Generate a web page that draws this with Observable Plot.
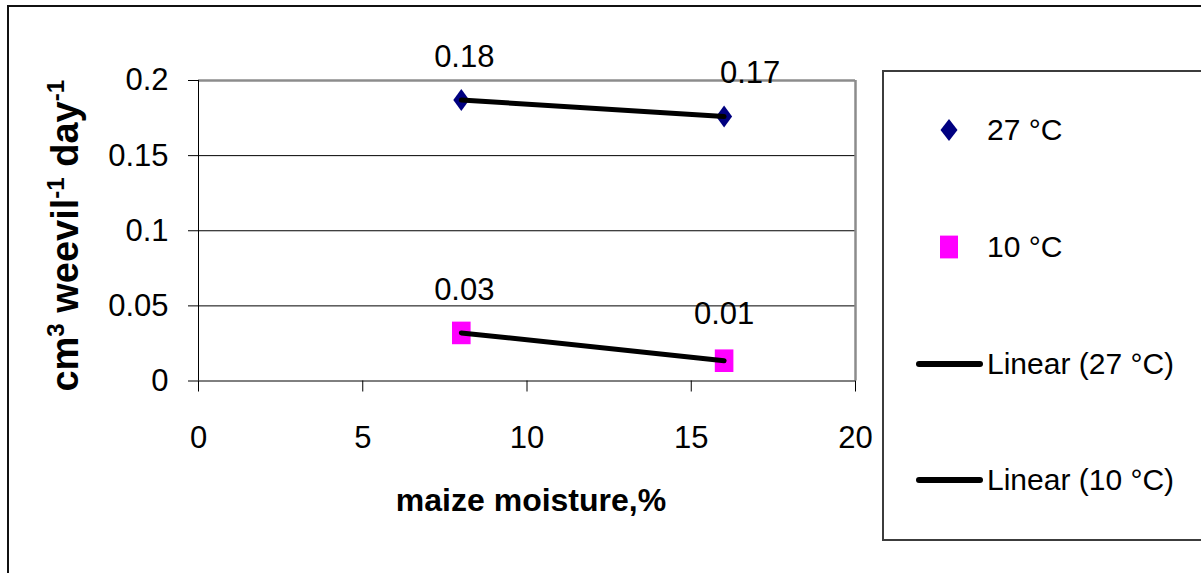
<!DOCTYPE html>
<html>
<head>
<meta charset="utf-8">
<script src="https://cdn.jsdelivr.net/npm/d3@7"></script>
<script src="https://cdn.jsdelivr.net/npm/@observablehq/plot@0.6"></script>
<style>
  html, body { margin: 0; padding: 0; background: #fff; }
  body { width: 1201px; height: 573px; overflow: hidden; position: relative; font-family: "Liberation Sans", Arial, sans-serif; }
  #outer { position: absolute; left: 7px; top: 5px; width: 2000px; height: 2000px; border-left: 2px solid #111; border-top: 2px solid #111; box-sizing: border-box; }
  #chart { position: absolute; left: 0; top: 0; }
  #legend { position: absolute; left: 882px; top: 70px; width: 400px; height: 471px; border: 2px solid #3c3c3c; box-sizing: border-box; background: #fff; }
  .row { height: 116.7px; display: flex; align-items: center; }
  .row svg { flex: none; }
  .row span { font-size: 30px; color: #000; white-space: pre; }
</style>
</head>
<body>
<div id="outer"></div>
<div id="chart"></div>
<div id="legend"></div>
<script>
// ---- data ----
const moisture = [8, 16];
const rate27 = [0.187, 0.176];
const rate10 = [0.032, 0.0135];
const labels27 = ["0.18", "0.17"];
const labels10 = ["0.03", "0.01"];
const series = ["27 °C", "10 °C"];
const seriesColors = ["#000080", "#ff00ff"];
const xTicks = [0, 5, 10, 15, 20];
const yTicks = [0, 0.05, 0.1, 0.15, 0.2];
const yTickLabels = ["0", "0.05", "0.1", "0.15", "0.2"];
const legendLabels = ["27 °C", "10 °C", "Linear (27 °C)", "Linear (10 °C)"];
const legendKinds = ["diamond", "square", "line", "line"];
const xTitle = "maize moisture,%";
const yTitle = "cm3 weevil-1 day-1";

const rows = [];
moisture.forEach((m, i) => rows.push({series: series[0], x: m, y: rate27[i], label: labels27[i], i}));
moisture.forEach((m, i) => rows.push({series: series[1], x: m, y: rate10[i], label: labels10[i], i}));

const tallDiamond = {draw(ctx) { const w = 8, h = 11; ctx.moveTo(0, -h); ctx.lineTo(w, 0); ctx.lineTo(0, h); ctx.lineTo(-w, 0); ctx.closePath(); }};
const tallSquare = {draw(ctx) { const w = 9.3, h = 11.3; ctx.rect(-w, -h, 2 * w, 2 * h); }};

const font = "Liberation Sans, Arial, sans-serif";
const s27 = rows.filter(d => d.series === series[0]);
const s10 = rows.filter(d => d.series === series[1]);

const chart = Plot.plot({
  width: 880,
  height: 560,
  marginLeft: 198,
  marginRight: 25,
  marginTop: 80,
  marginBottom: 179.5,
  x: {domain: [0, 20]},
  y: {domain: [0, 0.2]},
  style: {background: "none", fontFamily: font, color: "#000", overflow: "visible"},
  marks: [
    Plot.ruleY(yTicks.filter(t => t > 0 && t < 0.2), {stroke: "#000", strokeWidth: 1}),
    Plot.ruleY([0.2], {stroke: "#8c8c8c", strokeWidth: 2.5}),
    Plot.ruleX([20], {stroke: "#8c8c8c", strokeWidth: 2.5}),
    Plot.ruleX([0], {stroke: "#000", strokeWidth: 1}),
    Plot.ruleY([0], {stroke: "#000", strokeWidth: 1}),
    Plot.axisY({ticks: yTicks, tickFormat: d => yTickLabels[yTicks.indexOf(d)], tickSize: 10, tickPadding: 20, fontSize: 31, label: null, stroke: "#000"}),
    Plot.axisX({ticks: xTicks, tickFormat: d => String(d), tickSize: 11, tickPadding: 34, fontSize: 31, label: null, stroke: "#000"}),
    Plot.dot(s27, {x: "x", y: "y", symbol: tallDiamond, fill: seriesColors[0], stroke: "none"}),
    Plot.dot(s10, {x: "x", y: "y", symbol: tallSquare, fill: seriesColors[1], stroke: "none"}),
    Plot.linearRegressionY(rows, {x: "x", y: "y", z: "series", stroke: "#000", strokeWidth: 5, ci: 0}),
    Plot.text(rows.filter(d => d.i === 0), {x: "x", y: "y", text: "label", fontSize: 31, lineAnchor: "middle", dx: 3, dy: -43, fill: "#000"}),
    Plot.text(s27.filter(d => d.i === 1), {x: "x", y: "y", text: "label", fontSize: 31, lineAnchor: "middle", dx: 26, dy: -43, fill: "#000"}),
    Plot.text(s10.filter(d => d.i === 1), {x: "x", y: "y", text: "label", fontSize: 31, lineAnchor: "middle", dx: 0, dy: -47, fill: "#000"}),
    Plot.text([xTitle], {frameAnchor: "bottom", textAnchor: "middle", lineAnchor: "middle", dx: 4, dy: 120, fontSize: 32, fontWeight: "bold", fill: "#000"}),
    Plot.text([yTitle], {frameAnchor: "left", textAnchor: "middle", lineAnchor: "middle", rotate: -90, dx: -133, dy: 5, fontSize: 38, fontWeight: "bold", fill: "#000"})
  ]
});
document.getElementById("chart").appendChild(chart);

// superscripts in y title
d3.select(chart).selectAll("text").filter(function() { return this.textContent === yTitle; })
  .each(function() {
    const t = d3.select(this);
    t.text(null);
    const parts = [["cm", false], ["3", true], [" weevil", false], ["-1", true], [" day", false], ["-1", true]];
    let up = false;
    parts.forEach(([txt, sup]) => {
      const ts = t.append("tspan").text(txt);
      if (sup && !up) { ts.attr("dy", -14).attr("font-size", 24); up = true; }
      else if (sup) { ts.attr("font-size", 24); }
      else if (!sup && up) { ts.attr("dy", 14); up = false; }
    });
  });

// legend
const legend = d3.select("#legend");
legendLabels.forEach((lab, i) => {
  const row = legend.append("div").attr("class", "row");
  const sw = row.append("svg").attr("width", 103).attr("height", 30);
  const kind = legendKinds[i];
  if (kind === "diamond") sw.append("path").attr("d", "M65,4L73.5,15L65,26L56.5,15Z").attr("fill", seriesColors[0]);
  else if (kind === "square") sw.append("rect").attr("x", 56).attr("y", 3.6).attr("width", 18).attr("height", 22.8).attr("fill", seriesColors[1]);
  else sw.append("line").attr("x1", 35).attr("x2", 96).attr("y1", 15).attr("y2", 15).attr("stroke", "#000").attr("stroke-width", 6).attr("stroke-linecap", "round");
  row.append("span").text(lab);
});
</script>
</body>
</html>
